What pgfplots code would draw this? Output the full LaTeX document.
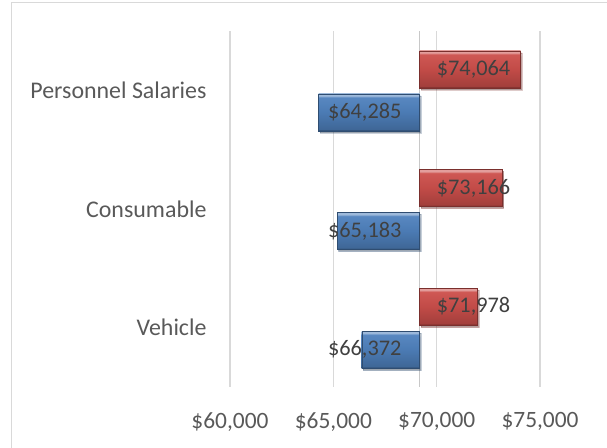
\documentclass[border=0pt]{standalone}
\usepackage{fontspec}
\setmainfont{Carlito}
\usepackage{pgfplots}
\pgfplotsset{compat=1.18}
\usetikzlibrary{shadows}
\definecolor{redbar}{HTML}{CC4F4B}
\definecolor{bluebar}{HTML}{4F81BD}
\definecolor{gridc}{HTML}{D9D9D9}
\definecolor{axisc}{HTML}{C8C8C8}
\definecolor{txt}{HTML}{595959}
\definecolor{lbl}{HTML}{404040}
\pgfdeclareverticalshading{redbevel}{100bp}{color(0bp)=(redbar!55!black); color(25bp)=(redbar!55!black); color(27.5bp)=(redbar!80!black); color(50bp)=(redbar!95!black); color(70bp)=(redbar!95!white); color(72.5bp)=(redbar!55!white); color(100bp)=(redbar!55!white)}
\pgfdeclareverticalshading{bluebevel}{100bp}{color(0bp)=(bluebar!55!black); color(25bp)=(bluebar!55!black); color(27.5bp)=(bluebar!80!black); color(50bp)=(bluebar!95!black); color(70bp)=(bluebar!95!white); color(72.5bp)=(bluebar!55!white); color(100bp)=(bluebar!55!white)}
\pgfplotsset{
  redb/.style={xbar, bar width=37bp, bar shift=21bp, draw=redbar!60!black, line width=0.4bp,
    shading=redbevel, drop shadow={shadow xshift=1.5bp, shadow yshift=-2bp, opacity=0.25, fill=black}},
  blueb/.style={xbar, bar width=37bp, bar shift=-22bp, draw=bluebar!60!black, line width=0.4bp,
    shading=bluebevel, drop shadow={shadow xshift=1.5bp, shadow yshift=-2bp, opacity=0.25, fill=black}},
}
\begin{document}
\begin{tikzpicture}[x=1bp,y=1bp]
\useasboundingbox (0,0) rectangle (607,448);
\draw[gridc, line width=1bp] (11.5,0) -- (11.5,445.7) -- (607,445.7);
\begin{axis}[
  at={(230bp,61bp)}, anchor=south west,
  scale only axis, width=377bp, height=356bp,
  x filter/.expression={x-69175},
  xmin=-9175, xmax=9065, ymin=-0.5, ymax=2.5,
  axis line style={draw=none},
  major tick length=0pt,
  xtick={-9175,-4175,825,5825},
  xticklabels={{\$60,000},{\$65,000},{\$70,000},{\$75,000}},
  xmajorgrids, grid style={gridc, line width=1.2bp},
  extra x ticks={0}, extra x tick labels={},
  extra x tick style={grid style={axisc, line width=1.2bp}},
  ytick={0,1,2},
  yticklabels={{Vehicle\hspace{6bp}},{Consumable},{Personnel Salaries}},
  xticklabel style={font=\fontsize{23.5}{28}\selectfont, text=txt, yshift=-22bp},
  yticklabel style={font=\fontsize{24}{28}\selectfont, text=txt, xshift=-20bp},
  clip=false,
]
\addplot[redb] coordinates {(74064,2)};
\addplot[redb] coordinates {(73166,1)};
\addplot[redb] coordinates {(71978,0)};
\addplot[blueb] coordinates {(64285,2)};
\addplot[blueb] coordinates {(65183,1)};
\addplot[blueb] coordinates {(66372,0)};
\addplot[draw=none, nodes near coords, point meta=explicit symbolic,
  nodes near coords style={anchor=west, inner sep=0pt, xshift=17bp, yshift=21bp,
    font=\fontsize{22.4}{26}\selectfont, text=lbl}]
  coordinates {(69175,2) [\$74,064] (69175,1) [\$73,166] (69175,0) [\$71,978]};
\addplot[draw=none, nodes near coords, point meta=explicit symbolic,
  nodes near coords style={anchor=east, inner sep=0pt, xshift=-18bp, yshift=-22bp,
    font=\fontsize{22.4}{26}\selectfont, text=lbl}]
  coordinates {(69175,2) [\$64,285] (69175,1) [\$65,183] (69175,0) [\$66,372]};
\end{axis}
\end{tikzpicture}
\end{document}
